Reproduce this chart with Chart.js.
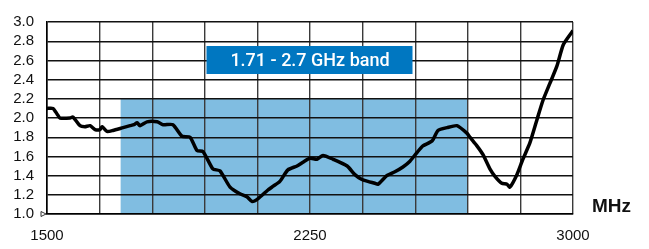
<!DOCTYPE html>
<html>
<head>
<meta charset="utf-8">
<script src="https://cdn.jsdelivr.net/npm/chart.js@4/dist/chart.umd.min.js"></script>
<style>
  html, body { margin: 0; padding: 0; background: #fff; }
  #wrap { width: 649px; height: 249px; position: relative; }
</style>
</head>
<body>
<div id="wrap"><canvas id="vswrChart"></canvas></div>
<script>
// Frequency (MHz) and VSWR
const freqs = [1500, 1517, 1529, 1537, 1566, 1574, 1594, 1608, 1623, 1637, 1651, 1657, 1671, 1688,
    1717, 1737, 1748, 1757, 1765, 1785, 1814, 1831, 1859, 1885, 1908, 1928, 1945, 1973, 1993,
    2022, 2050, 2070, 2085, 2102, 2130, 2145, 2164, 2187, 2213, 2230, 2250, 2270, 2287, 2316,
    2356, 2378, 2398, 2415, 2435, 2444, 2469, 2492, 2515, 2535, 2555, 2572, 2598, 2615, 2641,
    2669, 2698, 2706, 2726, 2743, 2763, 2778, 2797, 2812, 2820, 2840, 2857, 2877, 2897, 2914,
    2934, 2954, 2972, 2992, 3000];
const vswr = [2.10, 2.10, 2.04, 2.00, 2.00, 2.01, 1.92, 1.91, 1.92, 1.88, 1.88, 1.91, 1.86, 1.87,
    1.90, 1.92, 1.93, 1.95, 1.92, 1.96, 1.96, 1.93, 1.93, 1.81, 1.80, 1.66, 1.65, 1.47, 1.45,
    1.28, 1.21, 1.18, 1.13, 1.16, 1.25, 1.29, 1.34, 1.46, 1.50, 1.54, 1.58, 1.57, 1.61, 1.57,
    1.50, 1.41, 1.36, 1.34, 1.32, 1.31, 1.40, 1.44, 1.49, 1.55, 1.64, 1.71, 1.76, 1.87, 1.90,
    1.92, 1.84, 1.80, 1.71, 1.62, 1.47, 1.39, 1.32, 1.31, 1.28, 1.41, 1.57, 1.74, 1.98, 2.18,
    2.36, 2.54, 2.76, 2.87, 2.91];

// shaded band and its caption
const bandRange = [1710, 2700];
const bandTopVswr = 2.2;
const bandLabel = '1.71 - 2.7 GHz band';

// axis ticks
const xLabeled = [1500, 2250, 3000];
const xStep = 150;
const yRange = [1.0, 3.0];
const yStep = 0.2;
const xUnit = 'MHz';

const bandPlugin = {
    id: 'band',
    beforeDraw(chart) {
        const { ctx, scales: { x, y } } = chart;
        const left = x.getPixelForValue(bandRange[0]);
        const right = x.getPixelForValue(bandRange[1]);
        const top = y.getPixelForValue(bandTopVswr);
        const bottom = y.getPixelForValue(yRange[0]);
        ctx.save();
        ctx.fillStyle = '#80bde1';
        ctx.fillRect(left, top, right - left, bottom - top);
        ctx.restore();
    },
    afterDraw(chart) {
        const { ctx, chartArea, scales: { x, y } } = chart;
        ctx.save();
        // caption box, centred over the middle of the axis
        const cx = x.getPixelForValue(2250);
        const boxW = 206, boxH = 28;
        const boxTop = chartArea.top + 24;
        ctx.fillStyle = '#0077c1';
        ctx.fillRect(cx - boxW / 2 - 0.5, boxTop, boxW, boxH);
        ctx.fillStyle = '#ffffff';
        ctx.font = '500 18px Roboto';
        ctx.textAlign = 'center';
        ctx.textBaseline = 'middle';
        ctx.fillText(bandLabel, cx, boxTop + boxH / 2 + 1);

        // unit label
        ctx.fillStyle = '#111';
        ctx.font = 'bold 19px "Liberation Sans", Arial, sans-serif';
        ctx.textAlign = 'left';
        ctx.fillText(xUnit, chartArea.right + 19, chartArea.bottom - 7);

        // small marker at the y-axis origin
        const y0 = y.getPixelForValue(yRange[0]);
        const x0 = chartArea.left;
        ctx.strokeStyle = '#333';
        ctx.lineWidth = 1;
        ctx.beginPath();
        ctx.moveTo(x0 - 6, y0 - 2.5);
        ctx.lineTo(x0 - 1, y0);
        ctx.lineTo(x0 - 6, y0 + 2.5);
        ctx.closePath();
        ctx.stroke();
        ctx.restore();
    }
};

new Chart(document.getElementById('vswrChart'), {
    type: 'line',
    data: {
        datasets: [{
            data: freqs.map((f, i) => ({ x: f, y: vswr[i] })),
            borderColor: '#000',
            borderWidth: 3.5,
            pointRadius: 0,
            tension: 0.2,
            fill: false
        }]
    },
    options: {
        responsive: true,
        maintainAspectRatio: false,
        animation: false,
        layout: { padding: { top: 14, right: 76, bottom: 0, left: 0 } },
        plugins: {
            legend: { display: false },
            tooltip: { enabled: false }
        },
        scales: {
            x: {
                type: 'linear',
                min: 1500,
                max: 3000,
                afterFit(scale) { scale.height = 35; },
                afterBuildTicks(scale) {
                    const ticks = [];
                    for (let v = 1500; v <= 3000; v += xStep) ticks.push({ value: v });
                    scale.ticks = ticks;
                },
                grid: { color: '#3a3a3a', lineWidth: 1.4, drawTicks: false },
                border: { color: '#000', width: 1.6 },
                ticks: {
                    autoSkip: false,
                    maxRotation: 0,
                    padding: 13,
                    color: '#111',
                    font: { family: '"Liberation Sans", Arial, sans-serif', size: 15 },
                    callback: value => xLabeled.includes(value) ? String(value) : ''
                }
            },
            y: {
                min: yRange[0],
                max: yRange[1],
                afterFit(scale) { scale.width = 47; },
                grid: { color: '#111', lineWidth: 1.4, drawTicks: false },
                border: { color: '#000', width: 1.6 },
                ticks: {
                    stepSize: yStep,
                    autoSkip: false,
                    padding: 13,
                    color: '#111',
                    font: { family: '"Liberation Sans", Arial, sans-serif', size: 15 },
                    callback: value => Number(value).toFixed(1)
                }
            }
        }
    },
    plugins: [bandPlugin]
});
</script>
</body>
</html>
